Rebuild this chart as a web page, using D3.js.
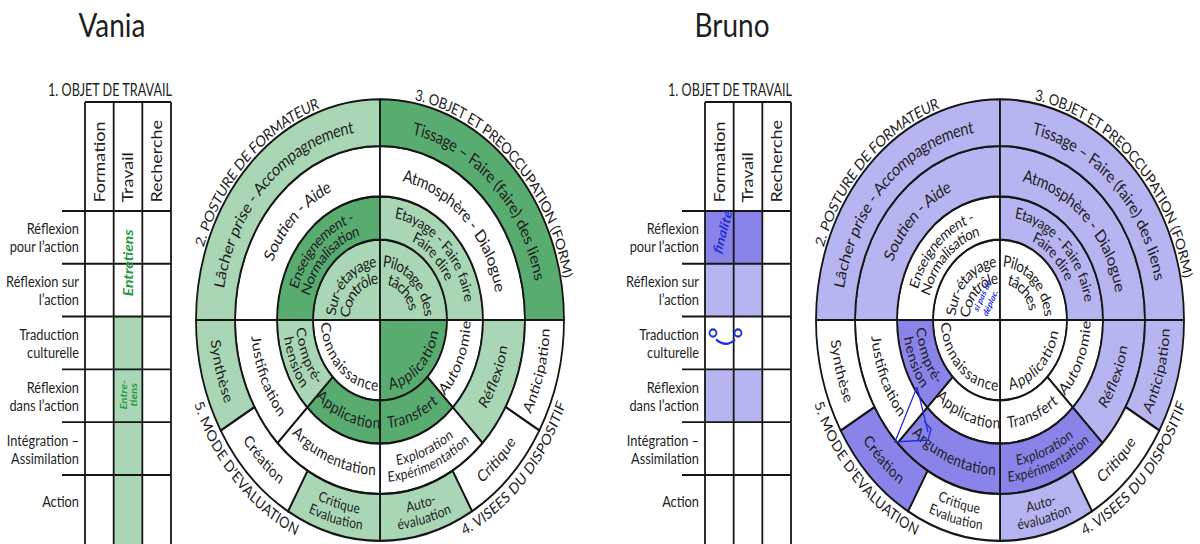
<!DOCTYPE html>
<html><head><meta charset="utf-8">
<script src="https://cdn.jsdelivr.net/npm/d3@7/dist/d3.min.js"></script>
<style>
body{margin:0;background:#fff}
svg{display:block}
text{font-family:Lato,"Open Sans",sans-serif;fill:#1e1e1e}
</style></head>
<body><svg id="c" width="1200" height="544"></svg>
<script>
// ---------- DATA ----------
const people = ["Vania", "Bruno"];
const tableTitle = "1. OBJET DE TRAVAIL";
const tableCols = ["Formation", "Travail", "Recherche"];
const tableRows = [
  ["Réflexion", "pour l’action"],
  ["Réflexion sur", "l’action"],
  ["Traduction", "culturelle"],
  ["Réflexion", "dans l’action"],
  ["Intégration –", "Assimilation"],
  ["Action"]
];
// 0 = none, 1 = light highlight, 2 = strong highlight (rows x cols)
const vaniaTable = [[0,0,0],[0,0,0],[0,1,0],[0,1,0],[0,1,0],[0,1,0]];
const brunoTable = [[2,2,0],[1,1,0],[0,0,0],[1,1,0],[0,0,0],[0,0,0]];

// quadrant titles (position in 1/24 turns, clockwise from top)
const quadrantTitles = [
  {at: 21,   text: "2. POSTURE DE FORMATEUR"},
  {at: 3,    text: "3. OBJET ET PREOCCUPATION (FORM)"},
  {at: 8.85, text: "4. VISEES DU DISPOSITIF"},
  {at: 15.15, text: "5. MODE D’EVALUATION"}
];
// wheel cells: ring (0 = centre), span in 1/24 turns (clockwise from top), label lines
const wheelCells = [
  {ring:0, from:18, to:24, lines:["Sur-étayage","Contrôle"]},
  {ring:1, from:18, to:24, lines:["Enseignement -","Normalisation"]},
  {ring:2, from:18, to:24, lines:["Soutien - Aide"]},
  {ring:3, from:18, to:24, lines:["Lâcher prise - Accompagnement"]},
  {ring:0, from:0, to:6, lines:["Pilotage des","tâches"]},
  {ring:1, from:0, to:6, lines:["Etayage - Faire faire","Faire dire"]},
  {ring:2, from:0, to:6, lines:["Atmosphère - Dialogue"]},
  {ring:3, from:0, to:6, lines:["Tissage – Faire (faire) des liens"]},
  {ring:0, from:6, to:12, lines:["Application"]},
  {ring:0, from:12, to:18, lines:["Connaissance"]},
  {ring:1, from:6, to:9, lines:["Autonomie"]},
  {ring:1, from:9, to:12, lines:["Transfert"]},
  {ring:1, from:12, to:15, lines:["Application"]},
  {ring:1, from:15, to:18, lines:["Compré-","hension"]},
  {ring:2, from:6, to:9, lines:["Réflexion"]},
  {ring:2, from:9, to:12, lines:["Exploration","Expérimentation"]},
  {ring:2, from:12, to:15, lines:["Argumentation"]},
  {ring:2, from:15, to:18, lines:["Justification"]},
  {ring:3, from:6, to:8, lines:["Anticipation"]},
  {ring:3, from:8, to:10, lines:["Critique"]},
  {ring:3, from:10, to:12, lines:["Auto-","évaluation"]},
  {ring:3, from:12, to:14, lines:["Critique","Evaluation"]},
  {ring:3, from:14, to:16, lines:["Création"]},
  {ring:3, from:16, to:18, lines:["Synthèse"]}
];
const vaniaWheel = [1,2,0,1, 1,1,0,2, 2,0, 0,2,2,1, 1,0,0,0, 0,0,1,1,0,1];
const brunoWheel = [0,0,1,1, 0,1,1,1, 0,0, 0,0,0,2, 1,2,2,0, 1,0,1,0,2,0];

// handwritten notes
const vaniaNotes = ["Entretiens", "Entre-", "tiens"];
const brunoNotes = ["finalité", "si pas de", "déplac."];

// ---------- DRAWING ----------
const S = 1.2; // the picture is stretched vertically
const svg = d3.select("#c");
const defs = svg.append("defs");
const root = svg.append("g").attr("transform", `scale(1,${S})`);
const H = 544 / S;

const ang = d3.scaleLinear().domain([0, 24]).range([0, 2 * Math.PI]);
const rad = d3.scaleLinear().domain([0, 1, 2, 3, 4]).range([0, 67, 103, 145, 184]);

const palettes = {
  Vania: ["#ffffff", "#a9d7b5", "#59ac70"],
  Bruno: ["#ffffff", "#b7b4f2", "#8a84ea"]
};
const INK = "#161616";
let pid = 0;

function arcPathD(r, ac, span, cw) {
  const p = a => [r * Math.sin(a), -r * Math.cos(a)];
  const a0 = ac - span, a1 = ac + span;
  if (cw) {
    const [x0,y0] = p(a0), [xm,ym] = p(ac), [x1,y1] = p(a1);
    return `M${x0},${y0}A${r},${r} 0 0 1 ${xm},${ym}A${r},${r} 0 0 1 ${x1},${y1}`;
  } else {
    const [x0,y0] = p(a1), [xm,ym] = p(ac), [x1,y1] = p(a0);
    return `M${x0},${y0}A${r},${r} 0 0 0 ${xm},${ym}A${r},${r} 0 0 0 ${x1},${y1}`;
  }
}

function curvedText(g, r, ac, cw, txt, size, span) {
  const id = "p" + (pid++);
  defs.append("path").attr("id", id).attr("d", arcPathD(r, ac, span || Math.PI * 0.49, cw));
  const t = g.append("text")
    .attr("font-size", size)
    .attr("dominant-baseline", "central");
  t.append("textPath")
    .attr("href", "#" + id)
    .attr("startOffset", "50%")
    .attr("text-anchor", "middle")
    .attr("dominant-baseline", "central")
    .text(txt);
}

function drawPanel(name, tableLevels, wheelLevels, ox) {
  const pal = palettes[name];
  const P = root.append("g").attr("transform", `translate(${ox},0)`);

  // title
  P.append("text").attr("x", 112).attr("y", 31).attr("text-anchor", "middle")
    .attr("font-size", 28).text(name);

  // ---- table ----
  const tTop = 85, hBottom = 175.8;
  const colX = d3.scaleBand().domain(tableCols).range([85, 171]);
  const rowY = d3.scaleBand().domain(d3.range(tableRows.length)).range([hBottom, hBottom + 6 * 44]);
  const bw = colX.bandwidth();

  tableRows.forEach((row, i) => {
    tableCols.forEach((c, j) => {
      const lv = tableLevels[i][j];
      if (!lv) return;
      const y = rowY(i);
      const h = i === tableRows.length - 1 ? H - y : rowY.bandwidth();
      P.append("rect").attr("x", colX(c)).attr("y", y).attr("width", bw).attr("height", h)
        .attr("fill", pal[lv]);
    });
  });

  P.append("text").attr("x", 172).attr("y", 80).attr("text-anchor", "end")
    .attr("font-size", 15).attr("textLength", 124).attr("lengthAdjust", "spacingAndGlyphs")
    .text(tableTitle);

  // table lines
  const vx = [...tableCols.map(c => colX(c)), colX.range()[1]];
  vx.forEach(x => P.append("line").attr("x1", x).attr("x2", x).attr("y1", tTop).attr("y2", H)
    .attr("stroke", INK).attr("stroke-width", 1.8));
  P.append("line").attr("x1", 85).attr("x2", 171).attr("y1", tTop).attr("y2", tTop)
    .attr("stroke", INK).attr("stroke-width", 1.6);
  tableRows.forEach((row, i) => {
    P.append("line").attr("x1", 62).attr("x2", 171).attr("y1", rowY(i)).attr("y2", rowY(i))
      .attr("stroke", INK).attr("stroke-width", 1.6);
  });

  // column headers
  tableCols.forEach(c => {
    const cx = colX(c) + bw / 2, cy = hBottom - 7;
    P.append("text").attr("transform", `translate(${cx},${cy}) rotate(-90)`)
      .attr("dominant-baseline", "central").attr("font-size", 15).text(c);
  });
  // row labels
  tableRows.forEach((row, i) => {
    const cy = rowY(i) + rowY.bandwidth() / 2;
    row.forEach((ln, k) => {
      const y = row.length === 1 ? cy : cy + (k === 0 ? -7.5 : 7.5);
      P.append("text").attr("x", 79).attr("y", y).attr("text-anchor", "end")
        .attr("dominant-baseline", "central").attr("font-size", 12.8).text(ln);
    });
  });

  // ---- wheel ----
  const cx = 380, cy = 266.7;
  const W = P.append("g").attr("transform", `translate(${cx},${cy})`);
  const arc = d3.arc()
    .innerRadius(d => rad(d.ring)).outerRadius(d => rad(d.ring + 1))
    .startAngle(d => ang(d.from)).endAngle(d => ang(d.to));
  W.selectAll("path.cell").data(wheelCells).join("path")
    .attr("class", "cell").attr("d", arc)
    .attr("fill", (d, i) => pal[wheelLevels[i]])
    .attr("stroke", INK).attr("stroke-width", 1.8).attr("stroke-linejoin", "round");

  // labels
  wheelCells.forEach(d => {
    const mid = (d.from + d.to) / 2;
    const top = mid > 18 || mid < 6;
    const ac = ang(mid);
    const n = d.lines.length;
    let base, sp = 13, size;
    if (d.ring === 0) {
      base = n > 1 ? rad(0.64) : rad(0.8);
      sp = 14; size = 13.5;
    } else {
      base = rad(d.ring + 0.5);
      if (n > 1) size = d.ring === 1 ? 13 : 12;
      else size = d.ring === 1 ? 13.5 : 14.5;
      if (d.ring >= 2 && n === 1 && !top) size = 13.5;
    }
    d.lines.forEach((ln, i) => {
      const off = ((n - 1) / 2 - i) * sp;
      const r = top ? base + off : base - off;
      curvedText(W, r, ac, top, ln, size);
    });
  });

  // quadrant titles
  quadrantTitles.forEach(t => {
    const ac = ang(t.at);
    const top = t.at > 18 || t.at < 6;
    curvedText(W, top ? 192 : 193, ac, top, t.text, 13, Math.PI * 0.3);
  });
  return P;
}

const vP = drawPanel("Vania", vaniaTable, vaniaWheel, 0);
const bP = drawPanel("Bruno", brunoTable, brunoWheel, 620);

// ---- handwritten notes ----
const green = "#2a9842", blue = "#1f30d8";
const hand = "'DejaVu Serif', serif";
function note(g, x, y, rot, size, color, txt) {
  g.append("text").attr("transform", `translate(${x},${y}) rotate(${rot})`)
    .attr("text-anchor", "middle").attr("dominant-baseline", "central")
    .attr("font-size", size).attr("font-style", "italic").attr("font-family", hand)
    .attr("font-weight", "bold").style("fill", color).text(txt);
}
note(vP, 128, 219, -90, 13, green, vaniaNotes[0]);
note(vP, 123, 329, -90, 9.5, green, vaniaNotes[1]);
note(vP, 133, 329, -90, 9.5, green, vaniaNotes[2]);

const B = root.append("g");
note(B, 722, 193, -72, 12.5, blue, brunoNotes[0]);
note(B, 982, 246, -62, 8, blue, brunoNotes[1]);
note(B, 990, 252, -62, 8, blue, brunoNotes[2]);
// smiley
[713, 738].forEach(x => B.append("ellipse").attr("cx", x).attr("cy", 277.5).attr("rx", 3.5).attr("ry", 3)
  .attr("fill", "none").attr("stroke", blue).attr("stroke-width", 1.8));
B.append("path").attr("d", "M716,283 Q726,290 735,283").attr("fill", "none")
  .attr("stroke", blue).attr("stroke-width", 2);
// pen strokes
B.append("path").attr("d", `M917,${387/S} L895,${442/S} L928,${440/S} L931,${429/S} L924,${421/S} M917,${387/S} L928,${432/S}`)
  .attr("fill", "none").attr("stroke", blue).attr("stroke-width", 1.3);
</script></body></html>
